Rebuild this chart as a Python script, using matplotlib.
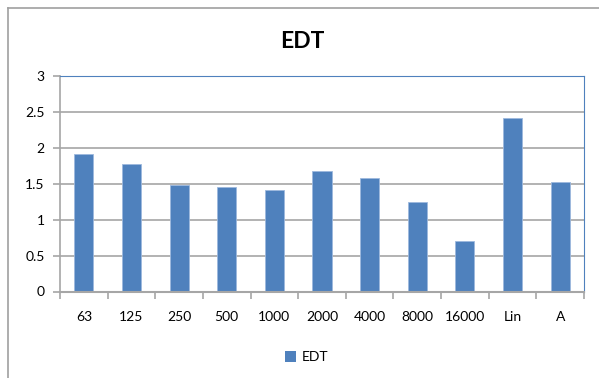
import matplotlib
matplotlib.use("Agg")
import matplotlib.pyplot as plt
from matplotlib.lines import Line2D
from matplotlib.patches import Patch
import numpy as np

plt.rcParams['font.family'] = ['Lato', 'DejaVu Sans']

# EDT per octave band (s)
bands = ["63", "125", "250", "500", "1000", "2000", "4000", "8000", "16000", "Lin", "A"]
edt = [1.91, 1.78, 1.48, 1.45, 1.41, 1.68, 1.58, 1.25, 0.70, 2.41, 1.52]
yticks = [0, 0.5, 1, 1.5, 2, 2.5, 3]

bar_color = "#4F81BD"
grid_color = "#A6A6A6"
frame_color = "#4F81BD"

fig = plt.figure(figsize=(5.99, 3.78), dpi=100)

# outer chart border (left and top only visible)
fig.add_artist(Line2D([8 / 599, 8 / 599], [0, 1 - 8 / 378], color="#A0A0A0", lw=1.2))
fig.add_artist(Line2D([8 / 599, 1], [1 - 8 / 378, 1 - 8 / 378], color="#A0A0A0", lw=1.2))

ax = fig.add_axes([60 / 599, 1 - 291.5 / 378, 524 / 599, 215.5 / 378])
x = np.arange(len(bands))
ax.bar(x, edt, width=0.4, color=bar_color, edgecolor="#9DB9DE", linewidth=0.6, zorder=3)

ax.set_xlim(-0.5, len(bands) - 0.5)
ax.set_ylim(0, 3)
ax.set_yticks(yticks)
ax.set_yticklabels([f"{v:g}" for v in yticks], fontsize=10)
ax.yaxis.grid(True, color=grid_color, lw=1.2, zorder=0)

ax.set_xticks(x)
ax.set_xticklabels(bands, fontsize=10)
ax.tick_params(axis="x", length=0, pad=14)
ax.set_xticks(np.arange(-0.5, len(bands), 1), minor=True)
ax.tick_params(axis="x", which="minor", length=5, color=grid_color, width=1.2)
ax.tick_params(axis="y", length=5, color=grid_color, width=1.2, pad=6)

ax.spines["left"].set_color(grid_color)
ax.spines["left"].set_linewidth(1.2)
ax.spines["bottom"].set_color(grid_color)
ax.spines["bottom"].set_linewidth(1.5)
ax.spines["bottom"].set_zorder(4)
ax.spines["top"].set_color(frame_color)
ax.spines["right"].set_color(frame_color)

fig.text(0.505, 1 - 42 / 378, "EDT", ha="center", va="center", fontsize=16.5, fontweight="bold")

fig.legend(handles=[Patch(facecolor=bar_color, label="EDT")], loc="center",
           bbox_to_anchor=(307 / 599, 1 - 357 / 378), frameon=False, fontsize=10,
           handlelength=0.8, handleheight=0.8, handletextpad=0.4)

fig.savefig("out.png", dpi=100)
